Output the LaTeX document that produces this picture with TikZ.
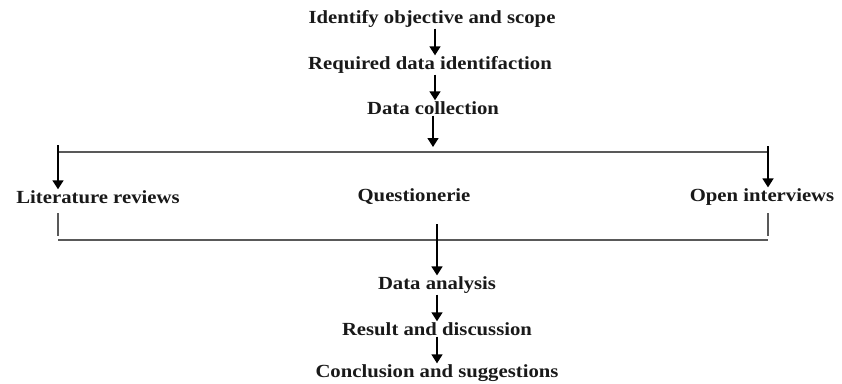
\documentclass[tikz,border=0pt]{standalone}
\usepackage{fontspec}
\setmainfont{Liberation Serif}[FakeStretch=1.12]
\usepackage{tikz}
\usetikzlibrary{arrows.meta,positioning,calc}

\tikzset{
  step label/.style={font=\bfseries\fontsize{18.5}{20}\selectfont, inner sep=1pt, text=black!90},
  flow arrow/.style={-{Triangle[width=11pt,length=9pt]}, line width=1.6pt, black},
  bar line/.style={line width=1.4pt, black!65}
}

\begin{document}
\begin{tikzpicture}[x=1pt,y=-1pt]
  \useasboundingbox (0,0) rectangle (842,383);
  % steps
  \node[step label] (obj) at (432,19) {Identify objective and scope};
  \node[step label] (req) at (430,65) {Required data identifaction};
  \node[step label] (col) at (433,108) {Data collection};
  \node[step label] (lit) at (98,197) {Literature reviews};
  \node[step label] (que) at (414,197) {Questionerie};
  \node[step label] (opi) at (762,197) {Open interviews};
  \node[step label] (ana) at (437,285) {Data analysis};
  \node[step label] (res) at (437,329) {Result and discussion};
  \node[step label] (con) at (437,373) {Conclusion and suggestions};
  % branch points
  \coordinate (midtop) at (435,0);
  \coordinate (midlow) at (437,0);
  \coordinate (topL) at (58,152);
  \coordinate (topR) at (768,152);
  \coordinate (lowL) at (58,240);
  \coordinate (lowR) at (768,240);
  \coordinate (hub) at (433,147);
  % upper arrows
  \draw[flow arrow] (obj.south -| midtop) -- (req.north -| midtop);
  \draw[flow arrow] (req.south -| midtop) -- (col.north -| midtop);
  \draw[flow arrow] (col.south -| hub) -- (hub);
  % split into the three sources
  \draw[bar line] (topL) -- (topR);
  \draw[flow arrow] ($(topL)+(0,-7)$) -- (lit.north -| topL);
  \draw[flow arrow] ($(topR)+(0,-6)$) -- (opi.north -| topR);
  % join again
  \draw[bar line] (lowL) -- (lowR);
  \draw[bar line] ($(lowL)+(0,-27)$) -- ($(lowL)+(0,-4)$);
  \draw[bar line] ($(lowR)+(0,-27)$) -- ($(lowR)+(0,-4)$);
  \draw[flow arrow] ($(que.south -| midlow)+(0,18)$) -- (ana.north -| midlow);
  % lower arrows
  \draw[flow arrow] (ana.south -| midlow) -- (res.north -| midlow);
  \draw[flow arrow] (res.south -| midlow) -- (con.north -| midlow);
\end{tikzpicture}
\end{document}
